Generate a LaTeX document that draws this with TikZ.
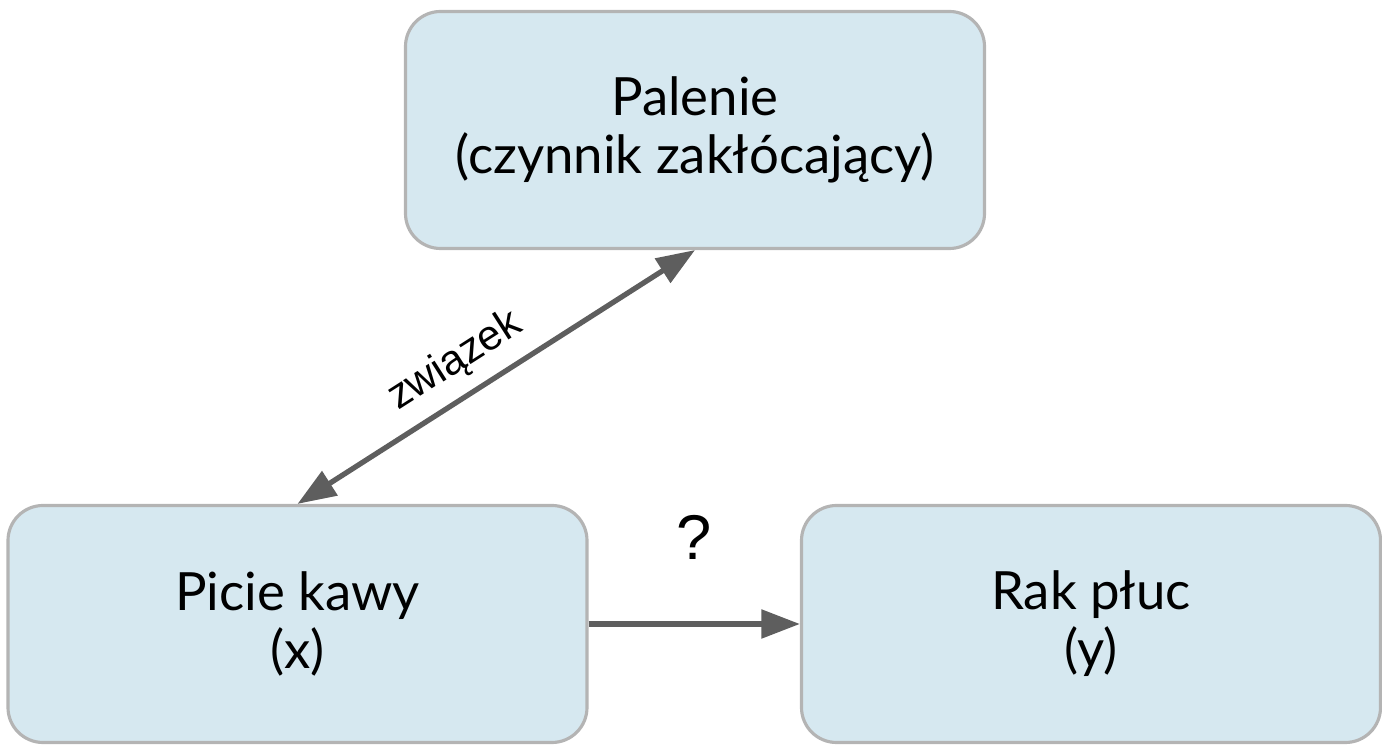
\documentclass[tikz,border=0pt]{standalone}
\usepackage{fontspec}
\setmainfont{Lato}
\newfontfamily\labelfont{Liberation Sans}
\usetikzlibrary{arrows.meta}

\definecolor{boxfill}{HTML}{D6E8F0}
\definecolor{boxline}{HTML}{B4B4B4}
\definecolor{arrowgray}{HTML}{5E5E5E}

\tikzset{
	varbox/.style={draw=boxline, fill=boxfill, line width=1.8pt, rounded corners=0.7cm,
		minimum width=\BoxWidth cm, minimum height=\BoxHeight cm, align=center,
		font=\fontsize{30}{33}\selectfont},
	tip/.style={Triangle[length=0.77cm,width=0.56cm]},
	link/.style={draw=arrowgray, line width=3pt, -{Triangle[length=0.77cm,width=0.56cm]}},
	linklabel/.style={font=\labelfont\fontsize{24}{28}\selectfont}
}

\begin{document}
\begin{tikzpicture}
			\newcommand{\BoxWidth}{11.58}
			\newcommand{\BoxHeight}{4.74}
			
			\useasboundingbox (0,0) rectangle (27.64,15.04);
			
			\coordinate (T) at (13.9,12.44);% top centre
			\coordinate (L) at (5.95,2.56);% left centre
			\coordinate (R) at (21.82,2.56);% right centre
			
			\node[varbox] (smoke) at (T) {Palenie\\(czynnik zakłócający)};
			\node[varbox] (coffee) at (L) {Picie kawy\\(x)};
			\node[varbox] (cancer) at (R) {Rak płuc\\(y)};
			
			\draw[link, {Triangle[length=0.77cm,width=0.56cm]}-{Triangle[length=0.77cm,width=0.56cm]}] (coffee.north) -- node[linklabel, sloped, above, pos=0.445, yshift=4pt]{związek} (smoke.south);
			\draw[link] (coffee.east) -- node[linklabel, font=\labelfont\fontsize{36}{40}\selectfont, yshift=1.74cm]{?} (cancer.west);
		\end{tikzpicture}
\end{document}
